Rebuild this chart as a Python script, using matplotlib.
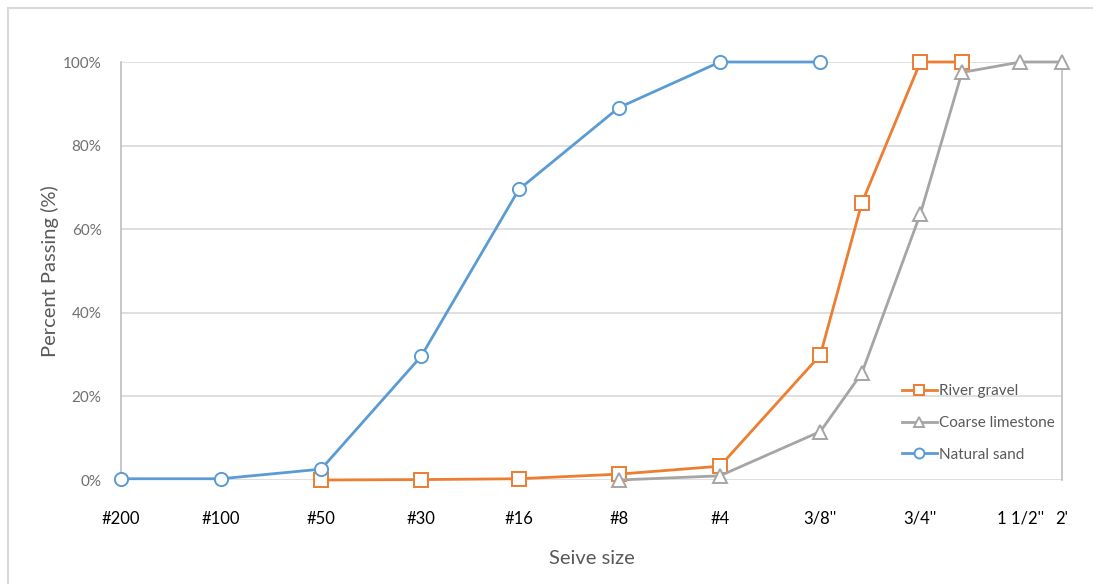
import matplotlib.pyplot as plt
from matplotlib.patches import Rectangle
from matplotlib.ticker import PercentFormatter, FixedLocator, NullLocator

# sieve openings in mm
sieve_labels = ['#200', '#100', '#50', '#30', '#16', '#8', '#4', "3/8''", "3/4''", "1 1/2''", "2'"]
sieve_mm = [0.075, 0.15, 0.3, 0.6, 1.18, 2.36, 4.75, 9.525, 19.05, 38.1, 50.8]

# gradation results (fraction passing)
gravel_mm = [0.3, 0.6, 1.18, 2.36, 4.75, 9.525, 12.7, 19.05, 25.4]
gravel_pass = [0.0, 0.001, 0.003, 0.014, 0.033, 0.299, 0.663, 1.0, 1.0]

limestone_mm = [2.36, 4.75, 9.525, 12.7, 19.05, 25.4, 38.1, 50.8]
limestone_pass = [0.0, 0.010, 0.116, 0.256, 0.637, 0.975, 1.0, 1.0]

sand_mm = [0.075, 0.15, 0.3, 0.6, 1.18, 2.36, 4.75, 9.525]
sand_pass = [0.003, 0.003, 0.026, 0.296, 0.695, 0.891, 1.0, 1.0]

plt.rcParams['font.family'] = ['Lato', 'DejaVu Sans']

W, H = 1093, 584
fig = plt.figure(figsize=(W / 100, H / 100), dpi=100)
ax = fig.add_axes([121 / W, 1 - 480 / H, (1062 - 121) / W, (480 - 62) / H])

# chart area border
fig.patches.append(Rectangle((8 / W, -0.1), 1.2, 1 - 8 / H + 0.1, transform=fig.transFigure,
                             fill=False, edgecolor='#d9d9d9', linewidth=1.5))

style = dict(linewidth=2, markersize=9.5, markeredgewidth=1.4, markerfacecolor='white', clip_on=False)
ax.plot(gravel_mm, gravel_pass, color='#ED7D31', marker='s', label='River gravel', zorder=3, **style)
ax.plot(limestone_mm, limestone_pass, color='#A5A5A5', marker='^', label='Coarse limestone', zorder=3, **style)
ax.plot(sand_mm, sand_pass, color='#5B9BD5', marker='o', label='Natural sand', zorder=3, **style)

ax.set_xscale('log', base=2)
ax.set_xlim(0.075, 50.8)
ax.set_ylim(0, 1)

ax.xaxis.set_major_locator(FixedLocator(sieve_mm))
ax.xaxis.set_minor_locator(NullLocator())
ax.set_xticklabels(sieve_labels)
ax.set_yticks([0, 0.2, 0.4, 0.6, 0.8, 1.0])
ax.yaxis.set_major_formatter(PercentFormatter(1.0, decimals=0))

ax.grid(axis='y', color='#d9d9d9', linewidth=1.2)
ax.set_axisbelow(True)
for side in ['top', 'bottom']:
    ax.spines[side].set_visible(False)
for side in ['left', 'right']:
    ax.spines[side].set_color('#bfbfbf')
    ax.spines[side].set_linewidth(1.2)

ax.tick_params(axis='x', length=0, pad=22, labelsize=12, labelcolor='black')
ax.tick_params(axis='y', length=0, pad=14, labelsize=11, labelcolor='#6f6f6f')

ax.set_xlabel('Seive size', fontsize=14.5, color='#595959', labelpad=17)
ax.set_ylabel('Percent Passing (%)', fontsize=14.5, color='#595959', labelpad=3)

ax.legend(loc='center left', bbox_to_anchor=(894 / W, 1 - 423 / H), bbox_transform=fig.transFigure,
          frameon=False, fontsize=11, labelcolor='#595959', handlelength=2.3,
          handletextpad=0.15, labelspacing=1.15, borderpad=0, markerscale=0.75)

fig.savefig('out.png', dpi=100)
